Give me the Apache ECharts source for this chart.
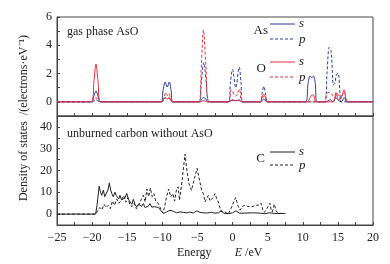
<!DOCTYPE html>
<html>
<head>
<meta charset="utf-8">
<script src="https://cdn.jsdelivr.net/npm/echarts@6/dist/echarts.min.js"></script>
<style>
  html, body { margin: 0; padding: 0; background: #fff; }
  #chart-box { width: 390px; height: 264px; }
</style>
</head>
<body>
<div id="chart-box"></div>
<script>
// 数据：上图 AsO 气相, 下图 未燃碳
var asSEnergy = [-25, -20.1, -19.75, -19.45, -19.15, -18.8,
  -10.2, -9.9, -9.6, -9.3, -9.0, -8.75, -8.5,
  -4.7, -4.4, -4.1, -3.8, -3.5,
  -0.6, -0.2, 0.4, 0.9, 1.3,
  4.0, 4.45, 4.9,
  10.4, 10.75, 11.05, 11.3, 11.55, 11.8, 12.0,
  13.3, 13.9, 14.3, 14.7, 15.1, 15.5, 15.9, 16.3, 20];
var asSDos = [0, 0, 0.4, 0.78, 0.4, 0,
  0, 0.8, 1.4, 1.05, 1.4, 0.8, 0,
  0, 0.2, 0.3, 0.2, 0,
  0, 0.1, 0.08, 0.1, 0,
  0, 0.2, 0,
  0, 1.3, 1.82, 1.72, 1.82, 1.2, 0,
  0, 0.15, 0, 0.3, 0.1, 0, 0.3, 0, 0];

var asPEnergy = [-25, -20.0, -19.45, -18.9,
  -10.1, -9.6, -9.3, -9.0, -8.6,
  -4.8, -4.45, -4.1, -3.75, -3.3,
  -0.6, -0.3, 0.0, 0.45, 0.95, 1.2, 1.45,
  3.9, 4.2, 4.45, 4.7, 4.95,
  13.1, 13.45, 13.75, 14.05, 14.35, 14.55, 14.8, 15.05, 15.3, 15.5, 20];
var asPDos = [0, 0, 0.15, 0,
  0, 0.3, 0.2, 0.25, 0,
  0, 1.4, 2.8, 1.4, 0,
  0, 1.4, 2.3, 1.0, 2.45, 1.4, 0,
  0, 0.6, 1.1, 0.6, 0,
  0, 2.0, 3.85, 3.55, 1.2, 1.3, 1.95, 2.0, 0.6, 0, 0];

var oSEnergy = [-25, -20.1, -19.75, -19.45, -19.15, -18.8,
  -10.1, -9.6, -9.3, -9.0, -8.6,
  -4.5, -4.1, -3.7,
  -0.5, 0.0, 0.5, 0.9, 1.4,
  3.95, 4.2, 4.45, 4.7, 4.95,
  10.6, 11.2, 11.5, 11.9,
  14.35, 14.72, 15.1, 15.45, 15.9, 16.4, 20];
var oSDos = [0, 0, 1.4, 2.67, 1.4, 0,
  0, 0.3, 0.2, 0.3, 0,
  0, 0.1, 0,
  0, 0.15, 0.08, 0.15, 0,
  0, 0.35, 0.55, 0.35, 0,
  0, 0.45, 0.5, 0,
  0, 0.66, 0.12, 0.25, 0.85, 0, 0];

var oPEnergy = [-25, -20.1, -19.45, -18.8,
  -10.1, -9.75, -9.5, -9.3, -9.05, -8.6,
  -4.8, -4.45, -4.15, -3.8, -3.3,
  -0.6, -0.2, 0.45, 1.0, 1.4,
  3.95, 4.45, 4.95,
  13.1, 13.4, 13.8, 14.2, 14.5, 14.9, 15.3, 15.9, 16.4, 20];
var oPDos = [0, 0, 0.3, 0,
  0, 0.4, 0.65, 0.45, 0.6, 0,
  0, 2.6, 5.1, 2.6, 0,
  0, 0.85, 0.4, 0.9, 0,
  0, 0.4, 0,
  0, 0.6, 0.66, 0.5, 0.3, 0.6, 0.2, 0.7, 0, 0];

var cSEnergy = [-25, -19.5, -19.3, -19.0, -18.8, -18.64, -18.4, -18.2, -18.02, -17.75,
  -17.55, -17.35, -17.2, -17.0, -16.74, -16.55, -16.4, -16.2, -16.03, -15.8,
  -15.55, -15.3, -15.07, -14.85, -14.6, -14.35, -14.13, -13.9, -13.65, -13.4,
  -13.18, -12.95, -12.71, -12.45, -12.23, -12.0, -11.76, -11.5, -11.29, -11.05,
  -10.8, -10.55, -10.33, -9.86, -9.39, -8.9, -8.44, -7.97, -7.5, -7.0,
  -6.55, -6.1, -5.6, -5.1, -4.65, -4.2, -3.7, -3.0, -2.5, -2.0,
  -1.6, -1.2, -0.6, 0.0, 0.5, 1.0, 2.0, 3.0, 4.0, 4.6, 5.3, 6.0, 7.5];
var cSDos = [0, 0, 4, 12.8, 10, 8.6, 11, 8, 7.3, 11,
  14.3, 11, 9.5, 8, 10, 8.5, 7.8, 7.0, 8.6, 6.5,
  6.4, 7.5, 9.5, 7, 5.6, 4.5, 6.8, 4.5, 3.3, 4.5,
  4.8, 3.5, 4.8, 3.0, 3.3, 3.6, 4.8, 3.2, 2.6, 3.4,
  3.9, 3.0, 2.6, 0.3, 1.0, 1.8, 1.3, 0.6, 1.0, 0.8,
  0.6, 0.9, 0.5, 1.5, 0.8, 0.6, 0.5, 0.8, 0.4, 0.6,
  1.5, 0.3, 0.2, 0.6, 1.5, 0.4, 0.5, 0.6, 0.4, 0.2, 0.6, 0.3, 0.3];

var cPEnergy = [-25, -19.5, -19.2, -18.9, -18.6, -18.3, -18.0, -17.7, -17.4, -17.1,
  -16.8, -16.5, -16.2, -15.9, -15.5, -15.2, -14.9, -14.6, -14.3, -14.0,
  -13.7, -13.4, -13.18, -12.95, -12.7, -12.45, -12.2, -11.95, -11.7, -11.45,
  -11.2, -10.95, -10.6, -10.3, -9.95, -9.7, -9.4, -9.1, -8.8, -8.5,
  -8.25, -7.97, -7.75, -7.55, -7.2, -6.77, -6.5, -6.2, -5.85, -5.6,
  -5.3, -5.05, -4.8, -4.4, -4.17, -3.92, -3.7, -3.45, -3.2, -2.97,
  -2.75, -2.5, -2.25, -2.03, -1.8, -1.55, -1.08, -0.6, -0.12, 0.2,
  0.45, 0.75, 1.06, 1.4, 1.77, 2.2, 2.72, 3.2, 3.67, 4.05,
  4.3, 4.52, 4.9, 5.33, 5.5, 5.66, 5.95, 6.2, 6.5, 7.5];
var cPDos = [0, 0, 1.5, 3, 2, 4.5, 3, 4, 2.5, 6,
  4, 7, 5, 6, 8.5, 5.5, 7.5, 4, 3.5, 5,
  2.5, 4, 4.8, 7, 8.6, 5.6, 11.5, 8, 12, 8,
  9.4, 6, 5, 3, 0.5, 3, 7.9, 11.5, 7.9, 9.4,
  6, 11.5, 12.5, 6.4, 15, 27.5, 20, 14, 10.9, 11.7,
  18, 21, 17, 10.9, 9.4, 5.6, 6.4, 8.6, 6, 6.2,
  7.8, 9.4, 7, 5.6, 3, 1, 1, 0, 3.3, 6,
  7.6, 4, 1.8, 3.5, 4.1, 3.5, 3.3, 4, 4.1, 5.1,
  2, 0.8, 2.5, 5.0, 2, 1, 4.6, 1.5, 0.3, 0.3];

var xTicks = [-25, -20, -15, -10, -5, 0, 5, 10, 15, 20];

var AS_COLOR = '#2b3c9e';
var O_COLOR = '#ee2f3c';
var C_COLOR = '#222';
var FONT = 'Liberation Serif';

function pairs(xs, ys) {
  var out = [];
  for (var i = 0; i < xs.length; i++) {
    out.push([xs[i], ys[i]]);
  }
  return out;
}

function minusFmt(v) {
  var s = String(v);
  return s.replace('-', '\u2212');
}

var chart = echarts.init(document.getElementById('chart-box'), null, {renderer: 'canvas'});

var axisLineStyle = {color: '#444', width: 1};

var option = {
  animation: false,
  backgroundColor: '#fff',
  grid: [
    {left: 57, top: 17, width: 316, height: 99, show: true, borderColor: '#444', borderWidth: 1},
    {left: 57, top: 116, width: 316, height: 109, show: true, borderColor: '#444', borderWidth: 1}
  ],
  xAxis: [
    {
      gridIndex: 0, type: 'value', min: -25, max: 20, interval: 2.5,
      axisLine: {show: true, onZero: false, lineStyle: axisLineStyle},
      axisTick: {show: true, inside: true, length: 3, lineStyle: axisLineStyle},
      axisLabel: {show: false},
      splitLine: {show: false}
    },
    {
      gridIndex: 1, type: 'value', min: -25, max: 20, interval: 2.5,
      axisLine: {show: true, onZero: false, lineStyle: axisLineStyle},
      axisTick: {show: true, inside: true, length: 3, lineStyle: axisLineStyle},
      axisLabel: {
        show: true, fontFamily: FONT, fontSize: 12, color: '#222', margin: 7,
        formatter: function (v) {
          return xTicks.indexOf(v) >= 0 ? minusFmt(v) : '';
        }
      },
      splitLine: {show: false}
    }
  ],
  yAxis: [
    {
      gridIndex: 0, type: 'value', min: -1, max: 6, interval: 1,
      axisLine: {show: true, onZero: false, lineStyle: axisLineStyle},
      axisTick: {show: true, inside: true, length: 3, lineStyle: axisLineStyle},
      axisLabel: {
        fontFamily: FONT, fontSize: 12, color: '#222', margin: 5,
        formatter: function (v) { return (v >= 0 && v % 2 === 0) ? String(v) : ''; }
      },
      splitLine: {show: false}
    },
    {
      gridIndex: 1, type: 'value', min: -5, max: 45, interval: 5,
      axisLine: {show: true, onZero: false, lineStyle: axisLineStyle},
      axisTick: {show: true, inside: true, length: 3, lineStyle: axisLineStyle},
      axisLabel: {
        fontFamily: FONT, fontSize: 12, color: '#222', margin: 5,
        formatter: function (v) { return (v >= 0 && v <= 40 && v % 10 === 0) ? String(v) : ''; }
      },
      splitLine: {show: false}
    }
  ],
  series: [
    {
      name: 'As p', type: 'line', xAxisIndex: 0, yAxisIndex: 0, showSymbol: false, smooth: 0.3,
      lineStyle: {color: AS_COLOR, width: 1, type: [3, 2]},
      data: pairs(asPEnergy, asPDos)
    },
    {
      name: 'O p', type: 'line', xAxisIndex: 0, yAxisIndex: 0, showSymbol: false, smooth: 0.3,
      lineStyle: {color: O_COLOR, width: 1, type: [3, 2]},
      data: pairs(oPEnergy, oPDos)
    },
    {
      name: 'As s', type: 'line', xAxisIndex: 0, yAxisIndex: 0, showSymbol: false, smooth: 0.3,
      lineStyle: {color: AS_COLOR, width: 1},
      data: pairs(asSEnergy, asSDos)
    },
    {
      name: 'O s', type: 'line', xAxisIndex: 0, yAxisIndex: 0, showSymbol: false, smooth: 0.3,
      lineStyle: {color: O_COLOR, width: 1},
      data: pairs(oSEnergy, oSDos)
    },
    {
      name: 'C p', type: 'line', xAxisIndex: 1, yAxisIndex: 1, showSymbol: false,
      lineStyle: {color: C_COLOR, width: 1, type: [3, 2]},
      data: pairs(cPEnergy, cPDos)
    },
    {
      name: 'C s', type: 'line', xAxisIndex: 1, yAxisIndex: 1, showSymbol: false,
      lineStyle: {color: C_COLOR, width: 1},
      data: pairs(cSEnergy, cSDos)
    }
  ],
  graphic: [
    // 面板标题
    {type: 'text', left: 67, top: 26, style: {text: 'gas phase AsO', font: '12px "Liberation Serif"', fill: '#222'}},
    {type: 'text', left: 67, top: 128, style: {text: 'unburned carbon without AsO', font: '12px "Liberation Serif"', fill: '#222'}},
    // 纵轴标题
    {
      type: 'text', x: 24, y: 118, rotation: Math.PI / 2,
      style: {
        text: 'Density of states  /(electrons\u00b7eV\u207b\u00b9)',
        font: '12px "Liberation Serif"', fill: '#222', align: 'center', verticalAlign: 'middle'
      }
    },
    // 横轴标题
    {
      type: 'text', x: 177, y: 253,
      style: {
        text: '{a|Energy}       {i|E}{a| /eV}',
        verticalAlign: 'middle', align: 'left',
        rich: {
          a: {fontFamily: FONT, fontSize: 12, fill: '#222'},
          i: {fontFamily: FONT, fontSize: 12, fontStyle: 'italic', fill: '#222'}
        }
      }
    },
    // 图例 As
    {type: 'text', x: 268, y: 31, style: {text: 'As', font: '13px "Liberation Serif"', fill: '#222', align: 'right', verticalAlign: 'middle'}},
    {type: 'line', shape: {x1: 270, y1: 24, x2: 295, y2: 24}, style: {stroke: AS_COLOR, lineWidth: 1}},
    {type: 'line', shape: {x1: 270, y1: 39, x2: 295, y2: 39}, style: {stroke: AS_COLOR, lineWidth: 1, lineDash: [3, 2]}},
    {type: 'text', x: 299, y: 24, style: {text: 's', font: 'italic 13px "Liberation Serif"', fill: '#222', verticalAlign: 'middle'}},
    {type: 'text', x: 299, y: 40, style: {text: 'p', font: 'italic 13px "Liberation Serif"', fill: '#222', verticalAlign: 'middle'}},
    // 图例 O
    {type: 'text', x: 266, y: 69, style: {text: 'O', font: '13px "Liberation Serif"', fill: '#222', align: 'right', verticalAlign: 'middle'}},
    {type: 'line', shape: {x1: 270, y1: 62, x2: 295, y2: 62}, style: {stroke: O_COLOR, lineWidth: 1}},
    {type: 'line', shape: {x1: 270, y1: 77, x2: 295, y2: 77}, style: {stroke: O_COLOR, lineWidth: 1, lineDash: [3, 2]}},
    {type: 'text', x: 299, y: 62, style: {text: 's', font: 'italic 13px "Liberation Serif"', fill: '#222', verticalAlign: 'middle'}},
    {type: 'text', x: 299, y: 78, style: {text: 'p', font: 'italic 13px "Liberation Serif"', fill: '#222', verticalAlign: 'middle'}},
    // 图例 C
    {type: 'text', x: 265, y: 159, style: {text: 'C', font: '13px "Liberation Serif"', fill: '#222', align: 'right', verticalAlign: 'middle'}},
    {type: 'line', shape: {x1: 270, y1: 152, x2: 295, y2: 152}, style: {stroke: C_COLOR, lineWidth: 1}},
    {type: 'line', shape: {x1: 270, y1: 165, x2: 295, y2: 165}, style: {stroke: C_COLOR, lineWidth: 1, lineDash: [3, 2]}},
    {type: 'text', x: 299, y: 152, style: {text: 's', font: 'italic 13px "Liberation Serif"', fill: '#222', verticalAlign: 'middle'}},
    {type: 'text', x: 299, y: 166, style: {text: 'p', font: 'italic 13px "Liberation Serif"', fill: '#222', verticalAlign: 'middle'}}
  ]
};

chart.setOption(option);
</script>
</body>
</html>
